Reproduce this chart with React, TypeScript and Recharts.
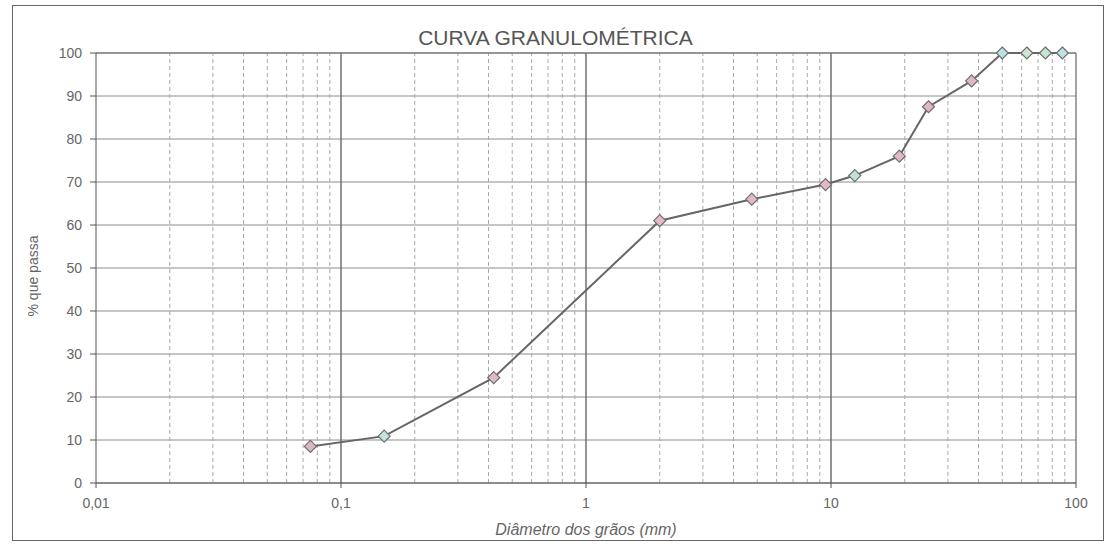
import React from 'react';
import { LineChart, Line, XAxis, YAxis, CartesianGrid, ReferenceLine } from 'recharts';

// Data
const DIAMETERS = [0.075, 0.15, 0.42, 2.0, 4.75, 9.5, 12.5, 19, 25, 37.5, 50, 63, 75, 88];
const PASSING = [8.5, 10.9, 24.5, 61, 66, 69.4, 71.5, 76, 87.5, 93.5, 100, 100, 100, 100];

const X_TICKS = [0.01, 0.1, 1, 10, 100];
const Y_TICKS = [0, 10, 20, 30, 40, 50, 60, 70, 80, 90, 100];
const DECADE_LINES = [0.1, 1, 10];
const MINOR_X = [
  0.02, 0.03, 0.04, 0.05, 0.06, 0.07, 0.08, 0.09,
  0.2, 0.3, 0.4, 0.5, 0.6, 0.7, 0.8, 0.9,
  2, 3, 4, 5, 6, 7, 8, 9,
  20, 30, 40, 50, 60, 70, 80, 90,
];

const TITLE = 'CURVA GRANULOMÉTRICA';
const X_LABEL = 'Diâmetro dos grãos (mm)';
const Y_LABEL = '% que passa';

// marker fill styles (kept apart from the data)
const MARKER_FILLS = [
  '#d9b8c4', '#bfe3df', '#e2b9c8', '#e6b7c6', '#e4b8c6', '#e2b9c6', '#bfe3d2',
  '#e2b7c6', '#e4b5c4', '#e2b6c8', '#b9e2e4', '#c9e6d6', '#c6e6d2', '#bfe0e6',
];

const data = DIAMETERS.map((d, i) => ({ d, p: PASSING[i] }));

const fmt = (v: number) => String(v).replace('.', ',');

const Diamond = (props: any) => {
  const { cx, cy, index } = props;
  if (cx == null || cy == null) return null;
  const s = 6;
  return (
    <path
      key={`dm-${index}`}
      d={`M${cx},${cy - s}L${cx + s},${cy}L${cx},${cy + s}L${cx - s},${cy}Z`}
      fill={MARKER_FILLS[index % MARKER_FILLS.length]}
      stroke="#6e6e6e"
      strokeWidth={1.2}
    />
  );
};

const YLabel = (props: any) => {
  const vb = props.viewBox || {};
  const x = (vb.x ?? 0) + 10;
  const y = (vb.y ?? 0) + (vb.height ?? 0) / 2 + 8;
  return (
    <text
      x={x}
      y={y}
      transform={`rotate(-90, ${x}, ${y})`}
      textAnchor="middle"
      dominantBaseline="central"
      fill="#666"
      fontSize={14}
    >
      {Y_LABEL}
    </text>
  );
};

export default function App() {
  return (
    <div
      style={{
        position: 'absolute',
        left: 12,
        top: 5,
        width: 1092,
        height: 536,
        border: '1px solid #666',
        boxSizing: 'border-box',
        background: '#fff',
        fontFamily: '"Liberation Sans", Arial, sans-serif',
      }}
    >
      <div
        style={{
          position: 'absolute',
          left: 0,
          top: 20,
          width: 1085,
          textAlign: 'center',
          fontSize: 21,
          color: '#555',
          lineHeight: '24px',
        }}
      >
        {TITLE}
      </div>
      <LineChart
        width={1090}
        height={534}
        data={data}
        margin={{ top: 47, right: 27, bottom: 5, left: 10 }}
      >
        <CartesianGrid
          vertical={false}
          stroke="#8c8c8c"
          strokeWidth={1}
          horizontalValues={Y_TICKS}
        />
        {MINOR_X.map((v) => (
          <ReferenceLine
            key={`m-${v}`}
            x={v}
            stroke="#a8a8a8"
            strokeDasharray="4 3"
            strokeWidth={1}
          />
        ))}
        {DECADE_LINES.map((v) => (
          <ReferenceLine key={`d-${v}`} x={v} stroke="#666" strokeWidth={1.4} />
        ))}
        <ReferenceLine x={100} stroke="#666" strokeWidth={1.2} />
        <ReferenceLine y={100} stroke="#666" strokeWidth={1.2} />
        <XAxis
          dataKey="d"
          type="number"
          scale="log"
          domain={[0.01, 100]}
          ticks={X_TICKS}
          allowDataOverflow
          tickFormatter={fmt}
          stroke="#555"
          tick={{ fill: '#666', fontSize: 14 }}
          tickSize={5}
          tickMargin={10}
          height={52}
          label={{
            value: X_LABEL,
            position: 'insideBottom',
            offset: 0,
            fill: '#666',
            fontSize: 16,
            fontStyle: 'italic',
          }}
        />
        <YAxis
          type="number"
          domain={[0, 100]}
          ticks={Y_TICKS}
          stroke="#555"
          tick={{ fill: '#666', fontSize: 14 }}
          tickSize={6}
          tickMargin={8}
          width={73}
          label={<YLabel />}
        />
        <Line
          type="linear"
          dataKey="p"
          stroke="#666"
          strokeWidth={2}
          dot={<Diamond />}
          activeDot={false}
          isAnimationActive={false}
        />
      </LineChart>
    </div>
  );
}
